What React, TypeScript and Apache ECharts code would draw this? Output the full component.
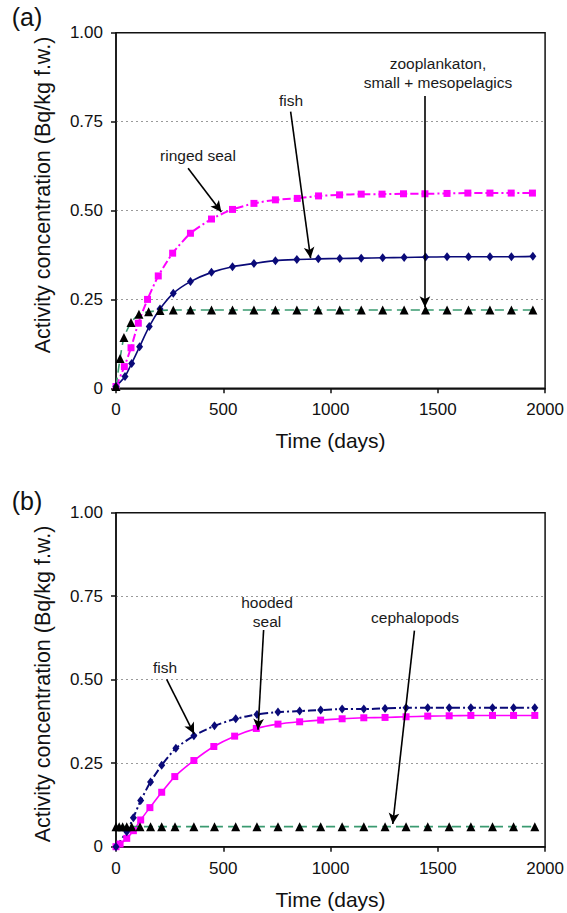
import React, { useEffect, useRef } from "react";
import * as echarts from "echarts";

// ---------- Data (panel a) ----------
const tA_seal = [0, 39, 70, 104, 147, 197, 264, 347, 445, 543, 643, 743, 845, 944, 1042, 1143, 1240, 1340, 1440, 1543, 1640, 1743, 1842, 1941];
const ringedSealA = [0.005, 0.061, 0.114, 0.183, 0.25, 0.316, 0.38, 0.436, 0.476, 0.503, 0.52, 0.53, 0.534, 0.541, 0.544, 0.546, 0.546, 0.547, 0.547, 0.548, 0.549, 0.549, 0.549, 0.549];
const tA_fish = [0, 42, 73, 110, 155, 205, 267, 347, 445, 543, 643, 743, 843, 943, 1043, 1143, 1243, 1343, 1443, 1543, 1643, 1743, 1843, 1943];
const fishA = [0.005, 0.033, 0.07, 0.117, 0.174, 0.223, 0.267, 0.3, 0.326, 0.342, 0.351, 0.359, 0.362, 0.364, 0.365, 0.366, 0.367, 0.368, 0.369, 0.37, 0.37, 0.37, 0.37, 0.371];
const tA_zoo = [0, 19, 37, 70, 107, 152, 205, 267, 347, 445, 543, 643, 743, 843, 943, 1043, 1143, 1243, 1343, 1443, 1543, 1643, 1743, 1843, 1943];
const zooA = [0.005, 0.084, 0.143, 0.185, 0.208, 0.215, 0.219, 0.22, 0.22, 0.22, 0.22, 0.22, 0.22, 0.22, 0.22, 0.22, 0.22, 0.22, 0.22, 0.22, 0.22, 0.22, 0.22, 0.22, 0.22];

// ---------- Data (panel b) ----------
const tB_fish = [0, 50, 81, 115, 161, 213, 279, 363, 459, 558, 657, 755, 856, 954, 1054, 1155, 1254, 1352, 1453, 1553, 1654, 1755, 1853, 1952];
const fishB = [0, 0.045, 0.087, 0.138, 0.194, 0.244, 0.295, 0.332, 0.362, 0.383, 0.396, 0.403, 0.406, 0.409, 0.412, 0.412, 0.414, 0.416, 0.416, 0.416, 0.416, 0.416, 0.416, 0.416];
const tB_seal = [0, 19, 50, 81, 115, 158, 213, 274, 363, 456, 553, 654, 755, 856, 954, 1054, 1155, 1254, 1352, 1453, 1553, 1654, 1755, 1853, 1952];
const hoodedSealB = [0, 0.008, 0.025, 0.048, 0.08, 0.117, 0.163, 0.21, 0.258, 0.3, 0.331, 0.354, 0.367, 0.374, 0.379, 0.383, 0.386, 0.387, 0.389, 0.391, 0.392, 0.393, 0.393, 0.393, 0.393];
const tB_ceph = [0, 15, 31, 50, 73, 112, 161, 213, 275, 363, 459, 558, 657, 755, 856, 954, 1054, 1155, 1254, 1352, 1453, 1553, 1654, 1755, 1853, 1952];
const cephB = [0.06, 0.06, 0.06, 0.06, 0.06, 0.06, 0.06, 0.06, 0.06, 0.06, 0.06, 0.06, 0.06, 0.06, 0.06, 0.06, 0.06, 0.06, 0.06, 0.06, 0.06, 0.06, 0.06, 0.06, 0.06, 0.06];

const xTicks = [0, 500, 1000, 1500, 2000];
const yTicks = [0, 0.25, 0.5, 0.75, 1.0];

const FONT = "'Liberation Sans', Arial, Helvetica, sans-serif";
const MAGENTA = "#ff00ff";
const NAVY = "#0a0a78";
const GREEN = "#3a9a70";

const zip = (xs: number[], ys: number[]) => xs.map((x, i) => [x, ys[i]]);

const arrow = (from: number[], to: number[]) => [{ coord: from }, { coord: to }];

function makeXAxis(gridIndex: number) {
  return {
    type: "value",
    gridIndex,
    min: xTicks[0],
    max: xTicks[xTicks.length - 1],
    interval: 500,
    name: "Time (days)",
    nameLocation: "middle",
    nameGap: 42,
    nameTextStyle: { fontFamily: FONT, fontSize: 21, color: "#111" },
    axisLine: { show: true, onZero: false, lineStyle: { color: "#111", width: 1.5 } },
    axisTick: { show: true, length: 5, lineStyle: { color: "#111", width: 1.5 } },
    axisLabel: { fontFamily: FONT, fontSize: 17, color: "#111", margin: 13, formatter: (v: number) => String(v) },
    splitLine: { show: false },
  };
}

function makeYAxis(gridIndex: number) {
  return {
    type: "value",
    gridIndex,
    min: yTicks[0],
    max: yTicks[yTicks.length - 1],
    interval: 0.25,
    axisLine: { show: true, onZero: false, lineStyle: { color: "#111", width: 1.5 } },
    axisTick: { show: true, length: 5, lineStyle: { color: "#111", width: 1.5 } },
    axisLabel: {
      fontFamily: FONT,
      fontSize: 17,
      color: "#111",
      margin: 13,
      formatter: (v: number) => (v === 0 ? "0" : v.toFixed(2)),
    },
    splitLine: {
      show: true,
      showMinLine: false,
      showMaxLine: false,
      lineStyle: { color: "#9a9a9a", type: [2, 3], width: 1 },
    },
  };
}

const markArrows = (lines: any[]) => ({
  silent: true,
  symbol: ["none", "arrow"],
  symbolSize: [8, 11],
  label: { show: false },
  lineStyle: { color: "#000", width: 1.6, type: "solid" },
  emphasis: { disabled: true },
  data: lines,
});

function annText(text: string, x: number, y: number) {
  return {
    type: "text",
    x,
    y,
    style: {
      text,
      fill: "#1a1a1a",
      fontFamily: FONT,
      fontSize: 15.5,
      align: "center",
      verticalAlign: "middle",
    },
  };
}

export default function App() {
  const ref = useRef<HTMLDivElement>(null);

  useEffect(() => {
    if (!ref.current) return;
    const chart = echarts.init(ref.current, undefined, { renderer: "svg" });

    const option: any = {
      animation: false,
      backgroundColor: "#ffffff",
      textStyle: { fontFamily: FONT },
      grid: [
        { left: 116, top: 32.7, width: 430, height: 355.6, show: true, borderColor: "#111", borderWidth: 1.5, backgroundColor: "transparent" },
        { left: 116, top: 512.7, width: 430, height: 334, show: true, borderColor: "#111", borderWidth: 1.5, backgroundColor: "transparent" },
      ],
      xAxis: [makeXAxis(0), makeXAxis(1)],
      yAxis: [makeYAxis(0), makeYAxis(1)],
      series: [
        // ---- panel (a)
        {
          name: "ringed seal",
          type: "line",
          xAxisIndex: 0,
          yAxisIndex: 0,
          data: zip(tA_seal, ringedSealA),
          smooth: 0.2,
          symbol: "rect",
          symbolSize: 7,
          itemStyle: { color: MAGENTA },
          lineStyle: { color: MAGENTA, width: 2, type: [8, 3, 2, 3] },
          markLine: markArrows([
            arrow([336, 0.619], [491, 0.496]),
            arrow([814, 0.778], [907, 0.366]),
            arrow([1440, 0.822], [1440, 0.228]),
          ]),
        },
        {
          name: "fish",
          type: "line",
          xAxisIndex: 0,
          yAxisIndex: 0,
          data: zip(tA_fish, fishA),
          smooth: 0.2,
          symbol: "diamond",
          symbolSize: [7, 9],
          itemStyle: { color: NAVY },
          lineStyle: { color: NAVY, width: 1.6, type: "solid" },
        },
        {
          name: "zooplankaton, small + mesopelagics",
          type: "line",
          xAxisIndex: 0,
          yAxisIndex: 0,
          data: zip(tA_zoo, zooA),
          smooth: 0.2,
          symbol: "triangle",
          symbolSize: 9,
          itemStyle: { color: "#000" },
          lineStyle: { color: GREEN, width: 1.6, type: [9, 5] },
        },
        // ---- panel (b)
        {
          name: "hooded seal",
          type: "line",
          xAxisIndex: 1,
          yAxisIndex: 1,
          data: zip(tB_seal, hoodedSealB),
          smooth: 0.2,
          symbol: "rect",
          symbolSize: 7,
          itemStyle: { color: MAGENTA },
          lineStyle: { color: MAGENTA, width: 1.6, type: "solid" },
          markLine: markArrows([
            arrow([236, 0.501], [364, 0.338]),
            arrow([688, 0.649], [662, 0.35]),
            arrow([1391, 0.647], [1290, 0.068]),
          ]),
        },
        {
          name: "fish",
          type: "line",
          xAxisIndex: 1,
          yAxisIndex: 1,
          data: zip(tB_fish, fishB),
          smooth: 0.2,
          symbol: "diamond",
          symbolSize: [7, 9],
          itemStyle: { color: NAVY },
          lineStyle: { color: NAVY, width: 2, type: [8, 3, 2, 3] },
        },
        {
          name: "cephalopods",
          type: "line",
          xAxisIndex: 1,
          yAxisIndex: 1,
          data: zip(tB_ceph, cephB),
          smooth: 0.2,
          symbol: "triangle",
          symbolSize: 9,
          itemStyle: { color: "#000" },
          lineStyle: { color: GREEN, width: 1.6, type: [9, 5] },
        },
      ],
      graphic: [
        { type: "text", x: 27, y: 17, style: { text: "(a)", fill: "#111", fontFamily: FONT, fontSize: 25, align: "center", verticalAlign: "middle" } },
        { type: "text", x: 27, y: 501, style: { text: "(b)", fill: "#111", fontFamily: FONT, fontSize: 25, align: "center", verticalAlign: "middle" } },
        {
          type: "text", x: 43, y: 195, rotation: Math.PI / 2,
          style: { text: "Activity concentration (Bq/kg f.w.)", fill: "#111", fontFamily: FONT, fontSize: 21.5, align: "center", verticalAlign: "middle" },
        },
        {
          type: "text", x: 43, y: 684, rotation: Math.PI / 2,
          style: { text: "Activity concentration (Bq/kg f.w.)", fill: "#111", fontFamily: FONT, fontSize: 21.5, align: "center", verticalAlign: "middle" },
        },
        annText("ringed seal", 198, 155),
        annText("fish", 291, 100),
        annText("zooplankaton,", 438, 63),
        annText("small + mesopelagics", 438, 82),
        annText("fish", 165, 667),
        annText("hooded", 267, 602),
        annText("seal", 267, 621),
        annText("cephalopods", 415, 617),
      ],
    };

    chart.setOption(option);
    return () => chart.dispose();
  }, []);

  return (
    <div
      ref={ref}
      style={{ position: "absolute", left: 0, top: 0, width: 567, height: 913, background: "#fff" }}
    />
  );
}
